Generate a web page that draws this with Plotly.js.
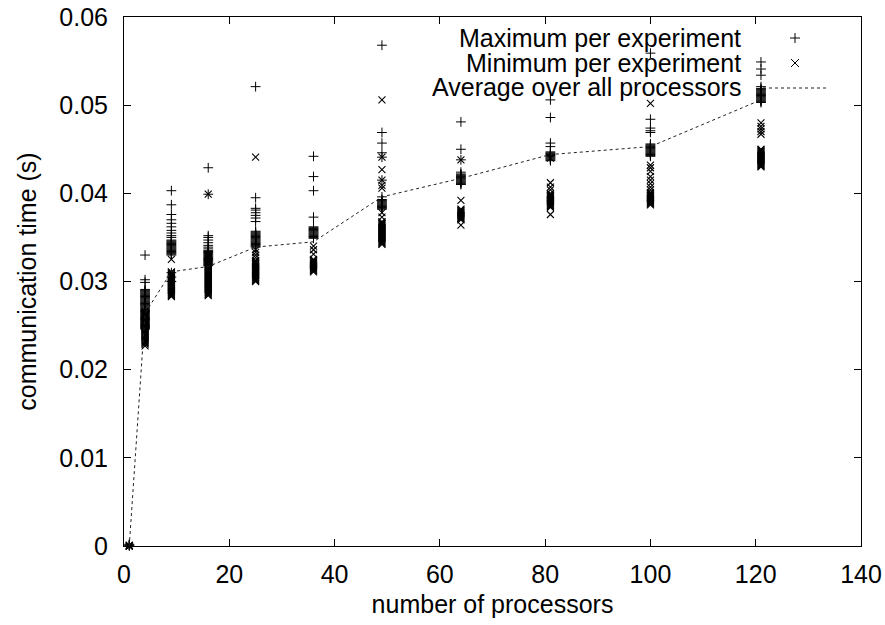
<!DOCTYPE html>
<html>
<head>
<meta charset="utf-8">
<script src="https://cdn.plot.ly/plotly-3.0.1.min.js"></script>
<style>html,body{margin:0;padding:0;background:#fff;}#chart{width:885px;height:625px;}</style>
</head>
<body>
<div id="chart"></div>
<script>
// number of processors (x positions of each column)
const procs = [1, 4, 9, 16, 25, 36, 49, 64, 81, 100, 121];

// average over all processors
const avgTime = [0, 0.0264, 0.0311, 0.0317, 0.0339, 0.0345, 0.0396, 0.0417, 0.0444, 0.0453, 0.0506];

// maximum per experiment, one list per processor count
const maxPerExperiment = [
  [0.0002, 0.0001, 0.0001, 0.0000],
  [0.0330, 0.0302, 0.0299, 0.0291, 0.0290, 0.0289, 0.0288, 0.0287, 0.0286, 0.0285, 0.0284, 0.0283, 0.0282, 0.0281, 0.0280,
   0.0279, 0.0278, 0.0277, 0.0276, 0.0275, 0.0274, 0.0273, 0.0272, 0.0271, 0.0270, 0.0269, 0.0268, 0.0267, 0.0266, 0.0265,
   0.0264, 0.0263, 0.0262, 0.0261, 0.0260, 0.0259, 0.0258, 0.0257, 0.0256, 0.0255, 0.0254, 0.0253, 0.0252, 0.0251, 0.0250,
   0.0249, 0.0248, 0.0247, 0.0246],
  [0.0403, 0.0387, 0.0376, 0.0370, 0.0366, 0.0362, 0.0358, 0.0355, 0.0352, 0.0350, 0.0347, 0.0346, 0.0345, 0.0344, 0.0343,
   0.0342, 0.0341, 0.0340, 0.0339, 0.0338, 0.0337, 0.0336, 0.0335, 0.0334, 0.0333, 0.0332, 0.0331, 0.0330, 0.0310, 0.0305, 0.0300],
  [0.0429, 0.0399, 0.0352, 0.0350, 0.0347, 0.0344, 0.0341, 0.0339, 0.0337, 0.0335, 0.0334, 0.0333, 0.0332, 0.0331, 0.0330,
   0.0329, 0.0328, 0.0327, 0.0326, 0.0325, 0.0324, 0.0323, 0.0322, 0.0321, 0.0320, 0.0319, 0.0318],
  [0.0521, 0.0395, 0.0383, 0.0381, 0.0378, 0.0375, 0.0372, 0.0368, 0.0357, 0.0356, 0.0355, 0.0354, 0.0353, 0.0352, 0.0351,
   0.0350, 0.0349, 0.0348, 0.0347, 0.0346, 0.0345, 0.0344, 0.0343, 0.0342, 0.0341, 0.0340, 0.0339],
  [0.0442, 0.0419, 0.0403, 0.0373, 0.0362, 0.0361, 0.0360, 0.0359, 0.0358, 0.0357, 0.0356, 0.0355, 0.0354, 0.0353, 0.0352,
   0.0351, 0.0350, 0.0349],
  [0.0568, 0.0469, 0.0457, 0.0446, 0.0441, 0.0415, 0.0396, 0.0393, 0.0392, 0.0391, 0.0390, 0.0389, 0.0388, 0.0387, 0.0386,
   0.0385, 0.0384, 0.0383, 0.0382],
  [0.0481, 0.0450, 0.0438, 0.0424, 0.0422, 0.0421, 0.0420, 0.0419, 0.0418, 0.0417, 0.0416, 0.0415, 0.0414, 0.0413, 0.0412,
   0.0411, 0.0410],
  [0.0506, 0.0486, 0.0457, 0.0453, 0.0447, 0.0446, 0.0445, 0.0444, 0.0443, 0.0442, 0.0441, 0.0440, 0.0439, 0.0438, 0.0437],
  [0.0559, 0.0484, 0.0474, 0.0471, 0.0469, 0.0456, 0.0455, 0.0454, 0.0453, 0.0452, 0.0451, 0.0450, 0.0449, 0.0448, 0.0447,
   0.0446, 0.0445, 0.0444, 0.0443, 0.0442],
  [0.0549, 0.0541, 0.0534, 0.0521, 0.0519, 0.0518, 0.0517, 0.0516, 0.0515, 0.0514, 0.0513, 0.0512, 0.0511, 0.0510, 0.0509,
   0.0508, 0.0507, 0.0506, 0.0505, 0.0504, 0.0503]
];

// minimum per experiment, one list per processor count
const minPerExperiment = [
  [0.0001, 0.0000, 0.0000, 0.0000],
  [0.0266, 0.0265, 0.0264, 0.0263, 0.0262, 0.0261, 0.0260, 0.0259, 0.0258, 0.0257, 0.0256, 0.0255, 0.0254, 0.0253, 0.0252,
   0.0251, 0.0250, 0.0249, 0.0248, 0.0247, 0.0246, 0.0245, 0.0244, 0.0243, 0.0242, 0.0241, 0.0240, 0.0239, 0.0238, 0.0237,
   0.0236, 0.0235, 0.0234, 0.0233, 0.0232, 0.0231, 0.0230, 0.0229, 0.0227],
  [0.0325, 0.0311, 0.0310, 0.0309, 0.0308, 0.0307, 0.0306, 0.0305, 0.0304, 0.0303, 0.0302, 0.0301, 0.0300, 0.0299, 0.0298,
   0.0297, 0.0296, 0.0295, 0.0294, 0.0293, 0.0292, 0.0291, 0.0290, 0.0289, 0.0288, 0.0287, 0.0286, 0.0285, 0.0284, 0.0283],
  [0.0399, 0.0330, 0.0329, 0.0328, 0.0327, 0.0326, 0.0325, 0.0324, 0.0323, 0.0322, 0.0321, 0.0320, 0.0319, 0.0318, 0.0317,
   0.0316, 0.0315, 0.0314, 0.0313, 0.0312, 0.0311, 0.0310, 0.0309, 0.0308, 0.0307, 0.0306, 0.0305, 0.0304, 0.0303, 0.0302,
   0.0301, 0.0300, 0.0299, 0.0298, 0.0297, 0.0296, 0.0295, 0.0294, 0.0293, 0.0292, 0.0291, 0.0290, 0.0289, 0.0288, 0.0287,
   0.0286, 0.0285, 0.0284],
  [0.0441, 0.0336, 0.0333, 0.0330, 0.0327, 0.0324, 0.0323, 0.0322, 0.0321, 0.0320, 0.0319, 0.0318, 0.0317, 0.0316, 0.0315,
   0.0314, 0.0313, 0.0312, 0.0311, 0.0310, 0.0309, 0.0308, 0.0307, 0.0306, 0.0305, 0.0304, 0.0303, 0.0302, 0.0301, 0.0300],
  [0.0340, 0.0336, 0.0331, 0.0325, 0.0324, 0.0323, 0.0322, 0.0321, 0.0320, 0.0319, 0.0318, 0.0317, 0.0316, 0.0315, 0.0314,
   0.0313, 0.0312, 0.0311],
  [0.0506, 0.0441, 0.0427, 0.0415, 0.0409, 0.0406, 0.0378, 0.0373, 0.0368, 0.0367, 0.0366, 0.0365, 0.0364, 0.0363, 0.0362,
   0.0361, 0.0360, 0.0359, 0.0358, 0.0357, 0.0356, 0.0355, 0.0354, 0.0353, 0.0352, 0.0351, 0.0350, 0.0349, 0.0348, 0.0347,
   0.0346, 0.0345, 0.0344, 0.0343, 0.0342],
  [0.0438, 0.0392, 0.0382, 0.0381, 0.0380, 0.0379, 0.0378, 0.0377, 0.0376, 0.0375, 0.0374, 0.0373, 0.0372, 0.0371, 0.0370,
   0.0364],
  [0.0440, 0.0412, 0.0407, 0.0404, 0.0400, 0.0399, 0.0398, 0.0397, 0.0396, 0.0395, 0.0394, 0.0393, 0.0392, 0.0391, 0.0390,
   0.0389, 0.0388, 0.0387, 0.0386, 0.0385, 0.0384, 0.0376],
  [0.0502, 0.0432, 0.0429, 0.0425, 0.0419, 0.0415, 0.0411, 0.0407, 0.0404, 0.0401, 0.0400, 0.0399, 0.0398, 0.0397, 0.0396,
   0.0395, 0.0394, 0.0393, 0.0392, 0.0391, 0.0390, 0.0389, 0.0388, 0.0387],
  [0.0480, 0.0476, 0.0473, 0.0470, 0.0467, 0.0450, 0.0449, 0.0448, 0.0447, 0.0446, 0.0445, 0.0444, 0.0443, 0.0442, 0.0441,
   0.0440, 0.0439, 0.0438, 0.0437, 0.0436, 0.0435, 0.0434, 0.0433, 0.0432, 0.0431, 0.0430]
];

// legend labels and tick labels
const seriesNames = ["Maximum per experiment", "Minimum per experiment", "Average over all processors"];
const xTickVals = [0, 20, 40, 60, 80, 100, 120, 140];
const yTickVals = [0, 0.01, 0.02, 0.03, 0.04, 0.05, 0.06];
const yTickText = ["0", "0.01", "0.02", "0.03", "0.04", "0.05", "0.06"];

function flatten(groups) {
  const xs = [], ys = [];
  groups.forEach((g, i) => g.forEach(v => { xs.push(procs[i]); ys.push(v); }));
  return {xs, ys};
}
const mx = flatten(maxPerExperiment);
const mn = flatten(minPerExperiment);

const FONT = "Liberation Sans, Arial, Helvetica, sans-serif";
const FS = 25;

const traces = [
  {
    type: "scatter", mode: "markers", name: seriesNames[0],
    x: mx.xs, y: mx.ys, cliponaxis: false, showlegend: false,
    marker: {symbol: "cross-thin-open", size: 7, color: "#000", line: {color: "#000", width: 1}}
  },
  {
    type: "scatter", mode: "markers", name: seriesNames[1],
    x: mn.xs, y: mn.ys, cliponaxis: false, showlegend: false,
    marker: {symbol: "x-thin-open", size: 7, color: "#000", line: {color: "#000", width: 1.1}}
  },
  {
    type: "scatter", mode: "lines", name: seriesNames[2],
    x: procs, y: avgTime, cliponaxis: false, showlegend: false,
    line: {color: "#222", width: 1, dash: "3px,3px"}
  }
];

const L = 124, R = 861, T = 17, B = 546;
const px = v => (v - L) / (R - L);
const py = v => (B - v) / (B - T);

const axisCommon = {
  showline: true, linecolor: "#000", linewidth: 1, mirror: "ticks",
  ticks: "inside", ticklen: 7, tickcolor: "#000", tickwidth: 1,
  showgrid: false, zeroline: false,
  tickfont: {family: FONT, size: FS, color: "#000"}
};

const layout = {
  width: 885, height: 625,
  margin: {l: L, r: 885 - R, t: T, b: 625 - B, pad: 0},
  paper_bgcolor: "#fff", plot_bgcolor: "#fff",
  showlegend: false,
  font: {family: FONT, size: FS, color: "#000"},
  xaxis: Object.assign({}, axisCommon, {
    range: [0, 140], tickvals: xTickVals, ticklabelstandoff: 6,
    title: {text: "number of processors", font: {family: FONT, size: FS, color: "#000"}, standoff: 8}
  }),
  yaxis: Object.assign({}, axisCommon, {
    range: [0, 0.06], tickvals: yTickVals, ticktext: yTickText, ticklabelstandoff: 10,
    title: {text: "communication time (s)", font: {family: FONT, size: FS, color: "#000"}, standoff: 15}
  }),
  annotations: seriesNames.map((t, i) => ({
    xref: "paper", yref: "paper", x: px(743), y: py([38, 62.5, 87][i]),
    xanchor: "right", yanchor: "middle", showarrow: false, text: t,
    font: {family: FONT, size: FS, color: "#000"}
  })),
  shapes: [
    {type: "line", xref: "paper", yref: "paper", xsizemode: "pixel", ysizemode: "pixel",
     xanchor: px(795), yanchor: py(38), x0: -5, x1: 5, y0: 0, y1: 0, line: {color: "#000", width: 1}},
    {type: "line", xref: "paper", yref: "paper", xsizemode: "pixel", ysizemode: "pixel",
     xanchor: px(795), yanchor: py(38), x0: 0, x1: 0, y0: -5, y1: 5, line: {color: "#000", width: 1}},
    {type: "line", xref: "paper", yref: "paper", xsizemode: "pixel", ysizemode: "pixel",
     xanchor: px(795), yanchor: py(63), x0: -4, x1: 4, y0: -4, y1: 4, line: {color: "#000", width: 1}},
    {type: "line", xref: "paper", yref: "paper", xsizemode: "pixel", ysizemode: "pixel",
     xanchor: px(795), yanchor: py(63), x0: -4, x1: 4, y0: 4, y1: -4, line: {color: "#000", width: 1}},
    {type: "line", xref: "paper", yref: "paper",
     x0: px(763), x1: px(828), y0: py(88), y1: py(88), line: {color: "#222", width: 1, dash: "3px,3px"}}
  ]
};

Plotly.newPlot("chart", traces, layout, {staticPlot: true, displayModeBar: false});
</script>
</body>
</html>
